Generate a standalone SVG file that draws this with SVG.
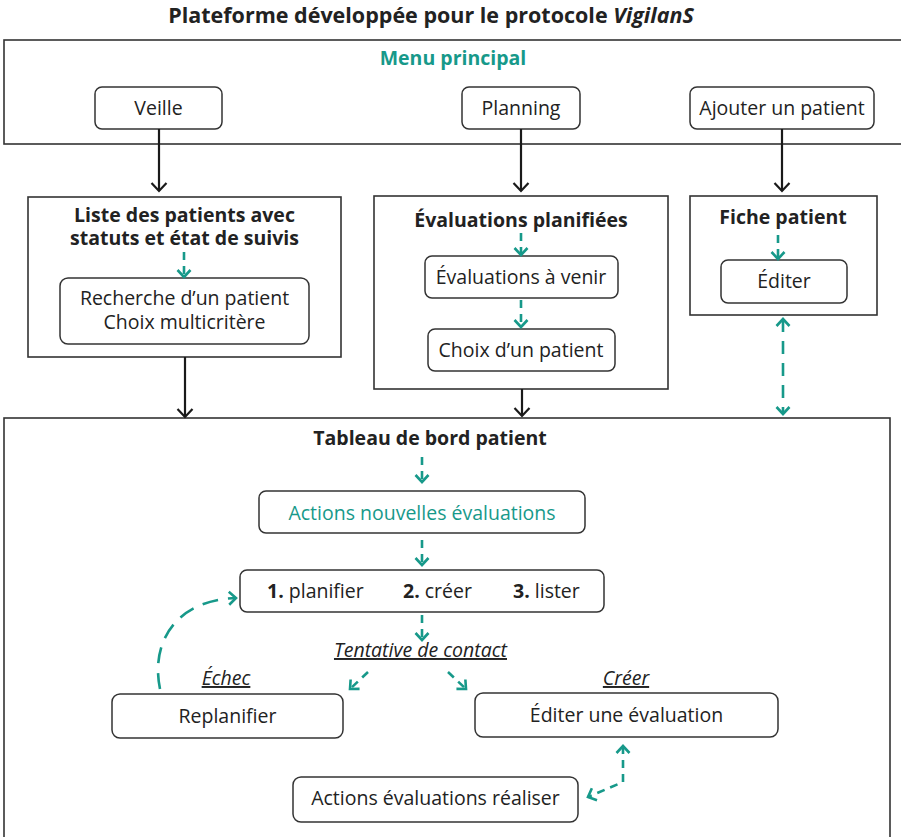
<svg xmlns="http://www.w3.org/2000/svg" width="901" height="837" viewBox="0 0 901 837">
<defs>
<style>
text{font-family:"Open Sans","Noto Sans","DejaVu Sans",sans-serif;fill:#222;}
.t{font-size:19.5px;text-anchor:middle;}
.b{font-weight:bold;}
.teal{fill:#17998a;}
.frame{fill:#fff;stroke:#333;stroke-width:1.6;}
.node{fill:#fff;stroke:#333;stroke-width:1.5;}
.blk{stroke:#1a1a1a;stroke-width:2.2;fill:none;marker-end:url(#ab);}
.dsh{stroke:#17998a;stroke-width:2.6;fill:none;stroke-dasharray:8 6;marker-end:url(#at);}
.lbl{font-size:19.5px;font-style:italic;text-decoration:underline;text-anchor:middle;}
</style>
<marker id="ab" markerUnits="userSpaceOnUse" markerWidth="20" markerHeight="20" viewBox="-10 -10 20 20" refX="0" refY="0" orient="auto">
<path d="M-8,-7.5 L0,0 L-8,7.5" fill="none" stroke="#1a1a1a" stroke-width="2.2"/>
</marker>
<marker id="at" markerUnits="userSpaceOnUse" markerWidth="20" markerHeight="20" viewBox="-10 -10 20 20" refX="0" refY="0" orient="auto-start-reverse">
<path d="M-7,-6.5 L0,0 L-7,6.5" fill="none" stroke="#17998a" stroke-width="2.6"/>
</marker>
</defs>

<text x="431" y="23" class="t b" style="font-size:21.5px">Plateforme développée pour le protocole <tspan font-style="italic">VigilanS</tspan></text>

<g id="menu">
<rect x="4" y="40" width="905" height="104" class="frame"/>
<text x="453" y="65" class="t b teal">Menu principal</text>
</g>
<g id="veille"><rect x="95" y="87" width="127" height="42" rx="7" class="node"/><text x="158.5" y="115" class="t">Veille</text></g>
<g id="planning"><rect x="462" y="87" width="118" height="42" rx="7" class="node"/><text x="521" y="115" class="t">Planning</text></g>
<g id="ajouter"><rect x="690" y="87" width="184" height="42" rx="7" class="node"/><text x="782" y="115" class="t">Ajouter un patient</text></g>

<g id="liste">
<rect x="28" y="197" width="313" height="160" class="frame"/>
<text x="184.5" y="222" class="t b">Liste des patients avec</text>
<text x="184.5" y="245" class="t b">statuts et état de suivis</text>
</g>
<g id="recherche">
<rect x="60" y="278" width="249" height="66" rx="8" class="node"/>
<text x="184.5" y="305" class="t">Recherche d’un patient</text>
<text x="184.5" y="329" class="t">Choix multicritère</text>
</g>

<g id="evalplan">
<rect x="374" y="196" width="294" height="193" class="frame"/>
<text x="521" y="227" class="t b">Évaluations planifiées</text>
</g>
<g id="avenir"><rect x="425" y="256" width="193" height="42" rx="7" class="node"/><text x="521" y="284" class="t">Évaluations à venir</text></g>
<g id="choix"><rect x="428" y="329" width="187" height="42" rx="7" class="node"/><text x="521" y="357" class="t">Choix d’un patient</text></g>

<g id="fiche">
<rect x="690" y="196" width="187" height="119" class="frame"/>
<text x="783" y="224" class="t b">Fiche patient</text>
</g>
<g id="editer"><rect x="721" y="260" width="126" height="43" rx="7" class="node"/><text x="784" y="288" class="t">Éditer</text></g>

<g id="tableau">
<rect x="4" y="418" width="886" height="430" class="frame"/>
<text x="430" y="445" class="t b">Tableau de bord patient</text>
</g>
<g id="actionsnouv"><rect x="259" y="491" width="326" height="42" rx="7" class="node"/><text x="422" y="520" class="t teal" font-weight="500">Actions nouvelles évaluations</text></g>
<g id="etapes">
<rect x="240" y="570" width="364" height="42" rx="7" class="node"/>
<text x="267" y="598" style="font-size:19.5px"><tspan font-weight="bold">1.</tspan> planifier</text>
<text x="403" y="598" style="font-size:19.5px"><tspan font-weight="bold">2.</tspan> créer</text>
<text x="513" y="598" style="font-size:19.5px"><tspan font-weight="bold">3.</tspan> lister</text>
</g>
<g id="replanifier"><rect x="112" y="694" width="231" height="44" rx="8" class="node"/><text x="227.5" y="723" class="t">Replanifier</text></g>
<g id="editereval"><rect x="475" y="693" width="303" height="44" rx="8" class="node"/><text x="626.5" y="722" class="t">Éditer une évaluation</text></g>
<g id="realiser"><rect x="293" y="777" width="285" height="45" rx="8" class="node"/><text x="435.5" y="805" class="t">Actions évaluations réaliser</text></g>

<g id="labels">
<text x="420.5" y="657" class="lbl">Tentative de contact</text>
<text x="226" y="685" class="lbl">Échec</text>
<text x="626" y="685" class="lbl">Créer</text>
</g>

<g id="connectors">
<line x1="159" y1="129" x2="159" y2="191" class="blk"/>
<line x1="521" y1="129" x2="521" y2="191" class="blk"/>
<line x1="782" y1="129" x2="782" y2="191" class="blk"/>
<line x1="185" y1="357" x2="185" y2="417" class="blk"/>
<line x1="522" y1="389" x2="522" y2="416" class="blk"/>

<line x1="184" y1="252" x2="184" y2="277" class="dsh"/>
<line x1="521" y1="233" x2="521" y2="255" class="dsh"/>
<line x1="521" y1="300" x2="521" y2="327" class="dsh"/>
<line x1="778" y1="235" x2="778" y2="259" class="dsh"/>
<line x1="783" y1="319" x2="783" y2="414" class="dsh" style="stroke-dasharray:13 9;marker-start:url(#at)"/>
<line x1="422" y1="457" x2="422" y2="482" class="dsh"/>
<line x1="422" y1="540" x2="422" y2="565" class="dsh"/>
<line x1="422" y1="615" x2="422" y2="640" class="dsh"/>
<line x1="368" y1="672" x2="350" y2="689" class="dsh"/>
<line x1="448" y1="672" x2="466" y2="689" class="dsh"/>
<path d="M623,746 L623,782 L588,797" class="dsh" style="marker-start:url(#at)"/>
<path d="M160,689 C150,640 178,600 236,598" class="dsh" style="stroke-dasharray:16 10"/>
</g>
</svg>
